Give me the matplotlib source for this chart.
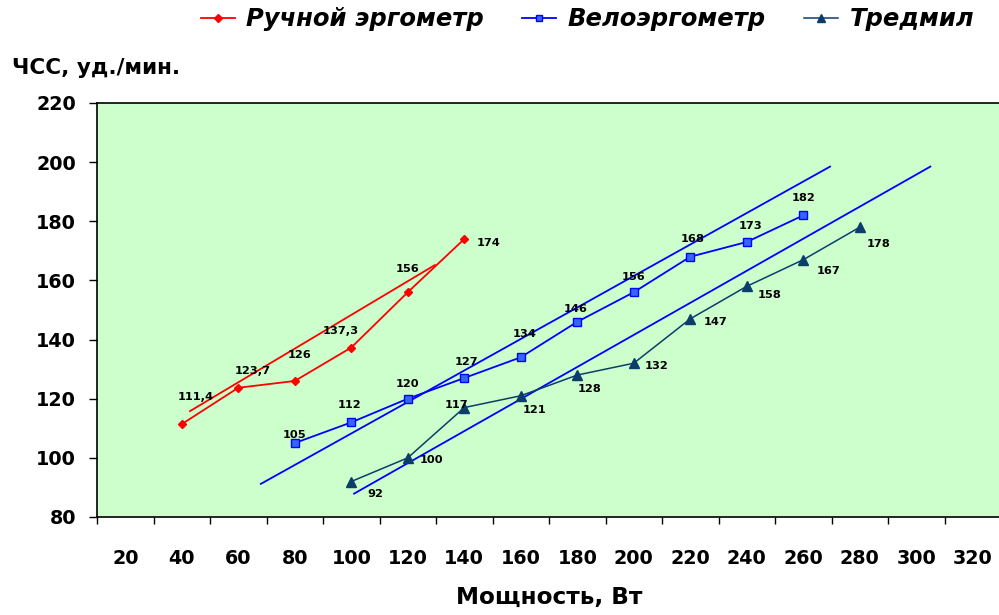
import matplotlib
matplotlib.use('Agg')
import matplotlib.pyplot as plt
from matplotlib.lines import Line2D

plt.rcParams['font.family'] = ['DejaVu Sans']

# data
power_hand = [40, 60, 80, 100, 120, 140]
hr_hand = [111.4, 123.7, 126, 137.3, 156, 174]
power_bike = [80, 100, 120, 140, 160, 180, 200, 220, 240, 260]
hr_bike = [105, 112, 120, 127, 134, 146, 156, 168, 173, 182]
power_tread = [100, 120, 140, 160, 180, 200, 220, 240, 260, 280]
hr_tread = [92, 100, 117, 121, 128, 132, 147, 158, 167, 178]
x_labels = list(range(20, 321, 20))

# hand-drawn trend lines, end points
trend_hand_x = [42.9, 129.6]
trend_hand_y = [115.8, 165.2]
trend_bike_x = [68.0, 269.5]
trend_bike_y = [91.2, 198.5]
trend_tread_x = [101.0, 305.0]
trend_tread_y = [87.9, 198.5]

# label offsets (pixels)
off_hand = [(14, 27), (14, 17), (5, 26), (-11, 17), (0, 23), (24, -4)]
off_bike = [(0, 8), (-2, 17), (0, 15), (2, 16), (4, 23), (-2, 13), (0, 15), (2, 18), (4, 16), (0, 17)]
off_tread = [(24, -12), (24, -2), (-8, 3), (14, -14), (12, -14), (23, -3), (25, -3), (23, -9), (25, -11), (19, -17)]

RED = '#ff0000'
BLUE = '#0000ff'
NAVY = '#0b3d6b'

fig = plt.figure(figsize=(9.99, 6.15), dpi=100)
ax = fig.add_axes([97 / 999, 1 - 517 / 615, 904 / 999, 414 / 615])
ax.set_facecolor('#ccffcc')

ax.plot(trend_hand_x, trend_hand_y, color=RED, lw=1.3)
ax.plot(trend_bike_x, trend_bike_y, color=BLUE, lw=1.3)
ax.plot(trend_tread_x, trend_tread_y, color=BLUE, lw=1.3)

ax.plot(power_hand, hr_hand, color=RED, lw=1.3, marker='D', ms=4.5,
        mfc=RED, mec=RED)
ax.plot(power_bike, hr_bike, color=BLUE, lw=1.3, marker='s', ms=6,
        mfc='#3366ff', mec=BLUE)
ax.plot(power_tread, hr_tread, color=NAVY, lw=1.1, marker='^', ms=7,
        mfc=NAVY, mec=NAVY)


def fmt(v):
    return f'{v:g}'.replace('.', ',')


for xs, ys, offs in [(power_hand, hr_hand, off_hand),
                     (power_bike, hr_bike, off_bike),
                     (power_tread, hr_tread, off_tread)]:
    for x, y, o in zip(xs, ys, offs):
        ax.annotate(fmt(y), (x, y), xytext=o, textcoords='offset pixels',
                    ha='center', va='center', fontsize=8.2,
                    fontweight='bold')

ax.set_xlim(10, 330)
ax.set_ylim(80, 220)
ax.set_yticks(range(80, 221, 20))
ax.set_xticks(x_labels)
ax.set_xticks(range(10, 331, 20), minor=True)
ax.tick_params(axis='x', which='major', length=0, pad=23, labelsize=13.8)
ax.tick_params(axis='x', which='minor', length=5, width=1, direction='out')
ax.tick_params(axis='y', length=6, width=1, pad=9, labelsize=13.8)
for lab in ax.get_xticklabels() + ax.get_yticklabels():
    lab.set_fontweight('bold')
for s in ax.spines.values():
    s.set_linewidth(1.2)
    s.set_color('black')

ax.set_xlabel('Мощность, Вт', fontsize=16.7, fontweight='bold', labelpad=13)
fig.text(12 / 999, 1 - 68 / 615, 'ЧСС, уд./мин.', fontsize=15.5,
         fontweight='bold', ha='left', va='center')

handles = [
    Line2D([], [], color=RED, lw=1.3, marker='D', ms=4, mfc=RED, mec=RED),
    Line2D([], [], color=BLUE, lw=1.3, marker='s', ms=5, mfc='#3366ff', mec=BLUE),
    Line2D([], [], color=NAVY, lw=1.1, marker='^', ms=6, mfc=NAVY, mec=NAVY),
]
fig.legend(handles, ['Ручной эргометр', 'Велоэргометр', 'Тредмил'],
           ncol=3, loc='center', bbox_to_anchor=(0.588, 0.969), frameon=False,
           prop=dict(weight='bold', style='italic', size=17.5),
           handlelength=1.4, handletextpad=0.45, columnspacing=1.6)

fig.savefig('out.png', dpi=100)
